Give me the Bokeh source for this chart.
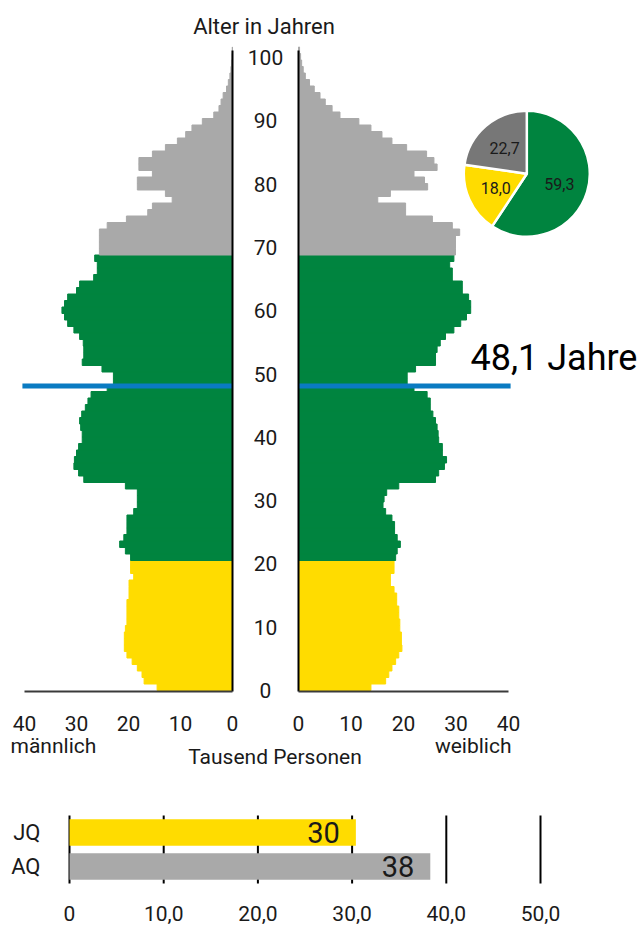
import numpy as np
from bokeh.plotting import figure
from bokeh.models import Range1d, FixedTicker, ColumnDataSource, LinearAxis
from bokeh.embed import file_html
from bokeh.resources import INLINE
from bokeh.core.properties import value

# ---------------- data ----------------
ages = list(range(0, 99))
male = [14.5, 17.0, 17.4, 18.3, 19.3, 20.3, 20.8, 20.8, 20.8, 20.6,
        20.3, 20.3, 20.3, 20.3, 19.9, 19.9, 19.9, 19.0, 19.6, 19.6,
        19.6, 20.6, 21.7, 20.9, 20.3, 20.3, 20.3, 19.0, 18.3, 18.3,
        18.3, 20.6, 28.6, 29.6, 30.5, 30.4, 30.0, 29.6, 28.9, 28.9,
        29.2, 29.4, 29.0, 28.3, 27.8, 27.2, 24.1, 22.9, 22.9, 25.1,
        28.9, 28.6, 28.6, 28.7, 29.4, 30.5, 31.7, 32.3, 32.8, 32.3,
        31.7, 30.0, 29.4, 26.7, 26.0, 26.0, 26.5, 25.6, 25.6, 25.6,
        25.6, 24.1, 20.4, 16.3, 15.4, 11.6, 12.9, 18.3, 18.3, 15.4,
        18.0, 18.0, 15.4, 12.9, 10.6, 9.0, 7.8, 5.8, 3.6, 2.6,
        2.2, 1.8, 1.15, 0.8, 0.5, 0.3, 0.2, 0.1, 0.05]
female = [13.8, 16.6, 17.2, 17.8, 18.5, 19.1, 19.7, 19.6, 19.6, 19.3,
          19.3, 19.1, 19.1, 18.7, 18.7, 18.2, 17.5, 17.5, 18.2, 18.2,
          18.5, 18.8, 19.4, 18.8, 18.3, 18.3, 17.8, 16.6, 16.1, 16.3,
          16.8, 19.1, 26.1, 26.7, 27.8, 28.2, 27.4, 27.4, 26.7, 26.6,
          26.4, 26.1, 25.6, 25.1, 25.1, 24.5, 22.0, 20.7, 20.7, 22.3,
          26.1, 26.1, 26.4, 27.0, 28.0, 29.6, 30.9, 32.0, 32.8, 32.8,
          32.4, 31.2, 31.2, 29.3, 29.3, 28.8, 29.6, 29.9, 29.9, 29.9,
          30.7, 29.3, 25.5, 20.4, 20.4, 15.1, 17.5, 24.6, 24.0, 22.0,
          26.4, 25.8, 24.4, 20.6, 17.8, 15.9, 13.8, 11.5, 7.9, 6.4,
          5.1, 4.1, 3.0, 2.1, 1.3, 0.9, 0.6, 0.4, 0.2]
group_bounds = [20, 67]                      # unter 20 | 20-66 | 67 und älter
group_colors = ["#ffdc00", "#00843f", "#a9a9a9"]
pie_shares = [59.3, 18.0, 22.7]              # 20-66, unter 20, 67+
pie_colors = ["#00843f", "#ffdc00", "#777777"]
median_age = 48.1
quot_names = ["JQ", "AQ"]
quot_values = [30.4, 38.3]
quot_colors = ["#ffdc00", "#a9a9a9"]
pyr_ticks = [0, 10, 20, 30, 40]
age_ticks = [0, 10, 20, 30, 40, 50, 60, 70, 80, 90, 100]
quot_ticks = [0, 10, 20, 30, 40, 50]
quot_tick_labels = ["0", "10,0", "20,0", "30,0", "40,0", "50,0"]

# ---------------- style / layout (page pixel geometry) ----------------
FONT = "Roboto"
TXT = "#1a1a1a"
BLUE = "#0a7bc2"
PX_M, PX_F, PX_Q = 5.2, 5.25, 9.42   # px per unit on the x scales
PX_BAR, PX_LAB, PX_ROW = 6.5, 6.33, 34.0
X0_M, X0_F, X0_Q = 232, 298, 69      # page x of the zero lines
Y0_AGE, Y_TOP = 690, 50              # page y of age 0 / top of pyramid
Y_JQ = 866                           # page y of row 0
LEFT, RIGHT, TOP, BOTTOM = 0, 642, 0, 929

bar_colors = [group_colors[int(np.searchsorted(group_bounds, a, side="right"))] for a in ages]

p = figure(width=RIGHT - LEFT, height=BOTTOM - TOP,
           x_range=Range1d(LEFT, RIGHT), y_range=Range1d(BOTTOM, TOP),
           toolbar_location=None, output_backend="svg",
           x_axis_location=None, y_axis_location=None, min_border=0)
p.outline_line_color = None
p.grid.visible = False
p.extra_x_ranges = {
    "male": Range1d((X0_M - LEFT) / PX_M, (X0_M - RIGHT) / PX_M),
    "female": Range1d((LEFT - X0_F) / PX_F, (RIGHT - X0_F) / PX_F),
    "quot": Range1d((LEFT - X0_Q) / PX_Q, (RIGHT - X0_Q) / PX_Q),
}
p.extra_y_ranges = {
    "age": Range1d((Y0_AGE - BOTTOM) / PX_BAR, (Y0_AGE - TOP) / PX_BAR),
    "ageax": Range1d((Y0_AGE - BOTTOM) / PX_LAB, (Y0_AGE - TOP) / PX_LAB),
    "qrow": Range1d((Y_JQ - BOTTOM) / PX_ROW, (Y_JQ - TOP) / PX_ROW),
}

# ---- pyramid bars ----
for rng, vals in (("male", male), ("female", female)):
    src = ColumnDataSource(dict(y=np.array(ages) + 0.5, v=vals, c=bar_colors))
    p.hbar(y="y", left=0, right="v", height=1, fill_color="c", line_color="c",
           line_width=1, source=src, x_range_name=rng, y_range_name="age")

# ---- median line ----
for rng in ("male", "female"):
    p.segment(x0=[0], x1=[40.4], y0=[median_age], y1=[median_age],
              x_range_name=rng, y_range_name="ageax", line_color=BLUE, line_width=5)

# ---- vertical zero lines ----
for rng in ("male", "female"):
    p.segment(x0=[0], x1=[0], y0=[-1 / PX_BAR], y1=[(Y0_AGE - Y_TOP) / PX_BAR],
              x_range_name=rng, y_range_name="age", line_color="black", line_width=2)

# ---- pyramid x axes ----
for rng in ("male", "female"):
    ax = LinearAxis(x_range_name=rng, fixed_location=Y0_AGE + 1, bounds=(0, 40),
                    ticker=FixedTicker(ticks=pyr_ticks))
    ax.axis_line_color = "#3a3a3a"
    ax.axis_line_width = 2
    ax.major_tick_line_color = None
    ax.minor_tick_line_color = None
    ax.major_tick_out = 0
    ax.major_tick_in = 0
    ax.major_label_standoff = 24
    ax.major_label_text_font = FONT
    ax.major_label_text_font_size = "21px"
    ax.major_label_text_color = TXT
    p.add_layout(ax, "below")

# ---- age labels ----
p.text(x=[265] * len(age_ticks), y=age_ticks, y_range_name="ageax",
       text=[str(t) for t in age_ticks], text_align="center", text_baseline="middle",
       text_font=value(FONT), text_font_size="21px", text_color=TXT)

# ---- titles / captions ----
def caption(x, y, txt, align):
    p.text(x=[x], y=[y], text=[txt], text_align=align, text_baseline="middle",
           text_font=value(FONT), text_font_size="21px", text_color=TXT)

p.text(x=[263.5], y=[26], text=["Alter in Jahren"], text_align="center",
       text_baseline="middle", text_font=value(FONT), text_font_size="22px",
       text_color=TXT)
caption(10, 745, "männlich", "left")
caption(511, 745, "weiblich", "right")
caption(274.5, 756, "Tausend Personen", "center")

# ---- pie ----
cx, cy = (526.3 - X0_F) / PX_F, (Y0_AGE - 173.3) / PX_BAR
fr = np.array(pie_shares) / sum(pie_shares)
cum = np.concatenate([[0], np.cumsum(fr)])
starts = np.pi / 2 - 2 * np.pi * cum[:-1]
ends = np.pi / 2 - 2 * np.pi * cum[1:]
p.wedge(x=cx, y=cy, radius=63, radius_units="screen", start_angle=starts,
        end_angle=ends, direction="clock", fill_color=pie_colors,
        line_color="white", line_width=2.5, x_range_name="female", y_range_name="age")
mids = (starts + ends) / 2
lr = 34
p.text(x=cx + lr * np.cos(mids) / PX_F, y=cy + lr * np.sin(mids) / PX_BAR,
       x_range_name="female", y_range_name="age",
       text=[f"{s:.1f}".replace(".", ",") for s in pie_shares],
       text_align="center", text_baseline="middle", text_font=value(FONT),
       text_font_size="16px", text_color=TXT)

# ---- median label ----
p.text(x=[470], y=[median_age + 28 / PX_LAB], y_range_name="ageax",
       text=[f"{median_age:.1f}".replace(".", ",") + " Jahre"],
       text_align="left", text_baseline="middle", text_font=value(FONT),
       text_font_size="36px", text_color="black")

# ---- quotient bar chart ----
qy = list(range(len(quot_names)))[::-1]
p.segment(x0=quot_ticks, x1=quot_ticks, y0=-0.5, y1=len(quot_names) - 0.5,
          x_range_name="quot", y_range_name="qrow", line_color="black", line_width=2)
p.hbar(y=qy, left=0, right=quot_values, height=26.5 / PX_ROW, fill_color=quot_colors,
       line_color=None, x_range_name="quot", y_range_name="qrow")
p.text(x=quot_values, y=qy, text=[f"{v:.0f}" for v in quot_values], x_offset=-16,
       x_range_name="quot", y_range_name="qrow",
       text_align="right", text_baseline="middle", text_font=value(FONT),
       text_font_size="29px", text_color=TXT)
xa = LinearAxis(x_range_name="quot", fixed_location=Y_JQ + 0.5 * PX_ROW,
                ticker=FixedTicker(ticks=quot_ticks),
                major_label_overrides=dict(zip(quot_ticks, quot_tick_labels)))
xa.major_label_standoff = 22
xa.major_label_text_font_size = "21px"
ya = LinearAxis(x_range_name="quot", y_range_name="qrow", fixed_location=0,
                ticker=FixedTicker(ticks=qy),
                major_label_overrides=dict(zip(qy, quot_names)))
ya.major_label_standoff = 29
ya.major_label_text_font_size = "22px"
for a in (xa, ya):
    a.axis_line_color = None
    a.major_tick_line_color = None
    a.minor_tick_line_color = None
    a.major_tick_out = 0
    a.major_tick_in = 0
    a.major_label_text_font = FONT
    a.major_label_text_color = TXT
p.add_layout(xa, "below")
p.add_layout(ya, "left")

open("out.html", "w").write(file_html(p, INLINE))
